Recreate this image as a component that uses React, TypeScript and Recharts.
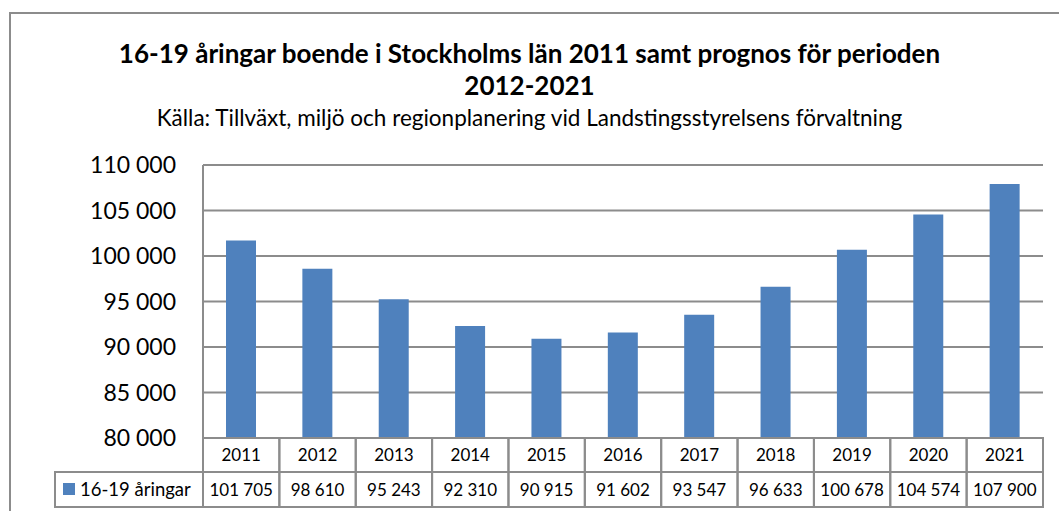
import React from "react";
import { BarChart, Bar, XAxis, YAxis, CartesianGrid } from "recharts";

const years = ["2011", "2012", "2013", "2014", "2015", "2016", "2017", "2018", "2019", "2020", "2021"];
const youths = [101705, 98610, 95243, 92310, 90915, 91602, 93547, 96633, 100678, 104574, 107900];
const yTicks = [80000, 85000, 90000, 95000, 100000, 105000, 110000];
const seriesName = "16-19 åringar";

const data = years.map((year, i) => ({ year, value: youths[i] }));

const W = 1059;
const H = 511;
const PLOT_LEFT = 203;
const PLOT_RIGHT = 1043;
const PLOT_TOP = 165;
const PLOT_BOTTOM = 438;
const ROW1_BOTTOM = 472;
const ROW2_BOTTOM = 507;
const LEGEND_LEFT = 55;
const CELL_W = (PLOT_RIGHT - PLOT_LEFT) / years.length;
const LINE = "#8c8c8c";
const FONT = "Lato, 'Open Sans', sans-serif";

const fmt = (n: number) => String(n).replace(/\B(?=(\d{3})+(?!\d))/g, " ");

const YTick = (props: any) => {
	const { y, payload } = props;
	return (
		<text x={PLOT_LEFT - 27} y={y} dy={8} textAnchor="end" fontSize={23} fill="#000" fontFamily={FONT}>
			{fmt(payload.value)}
		</text>
	);
};

const TableTick = (props: any) => {
	const { x, index, payload } = props;
	const left = x - CELL_W / 2;
	return (
		<g>
			<rect x={left} y={PLOT_BOTTOM} width={CELL_W} height={ROW2_BOTTOM - PLOT_BOTTOM} fill="none" stroke={LINE} strokeWidth={2} />
			<line x1={left} x2={left + CELL_W} y1={ROW1_BOTTOM} y2={ROW1_BOTTOM} stroke={LINE} strokeWidth={2} />
			<text x={x} y={(PLOT_BOTTOM + ROW1_BOTTOM) / 2 + 6} textAnchor="middle" fontSize={17} fill="#000" fontFamily={FONT}>
				{payload.value}
			</text>
			<text x={x} y={(ROW1_BOTTOM + ROW2_BOTTOM) / 2 + 6} textAnchor="middle" fontSize={17} fill="#000" fontFamily={FONT}>
				{fmt(youths[index])}
			</text>
			{index === 0 && (
				<g>
					<rect x={LEGEND_LEFT} y={ROW1_BOTTOM} width={PLOT_LEFT - LEGEND_LEFT} height={ROW2_BOTTOM - ROW1_BOTTOM} fill="none" stroke={LINE} strokeWidth={2} />
					<rect x={63} y={483} width={12} height={12} fill="#4f81bd" />
					<text x={80} y={(ROW1_BOTTOM + ROW2_BOTTOM) / 2 + 6} fontSize={18.5} fill="#000" fontFamily={FONT}>
						{seriesName}
					</text>
				</g>
			)}
		</g>
	);
};

export default function App() {
	return (
		<div style={{ position: "absolute", left: 0, top: 0, width: W, height: H, overflow: "hidden", background: "#fff" }}>
			<div style={{ position: "absolute", left: 9, top: 12, width: W + 50, height: H + 50, border: `2px solid ${LINE}` }} />
			<div style={{ position: "absolute", left: 0, top: 37, width: W, textAlign: "center", fontFamily: FONT, fontWeight: 700, fontSize: 26, lineHeight: "32px", color: "#000" }}>
				16-19 åringar boende i Stockholms län 2011 samt prognos för perioden
				<br />
				2012-2021
			</div>
			<div style={{ position: "absolute", left: 0, top: 105, width: W, textAlign: "center", fontFamily: FONT, fontSize: 22.5, lineHeight: "26px", color: "#000" }}>
				Källa: Tillväxt, miljö och regionplanering vid Landstingsstyrelsens förvaltning
			</div>
			<div style={{ position: "absolute", left: 0, top: 0 }}>
				<BarChart
					width={W}
					height={H}
					data={data}
					margin={{ top: PLOT_TOP, right: W - PLOT_RIGHT, bottom: H - PLOT_BOTTOM - 30, left: 0 }}
					barSize={30}
				>
					<CartesianGrid vertical={false} stroke={LINE} strokeWidth={2} />
					<XAxis dataKey="year" axisLine={false} tickLine={false} tick={<TableTick />} interval={0} height={30} />
					<YAxis
						domain={[80000, 110000]}
						ticks={yTicks}
						width={PLOT_LEFT}
						axisLine={{ stroke: LINE, strokeWidth: 2 }}
						tickLine={false}
						tick={<YTick />}
						interval={0}
					/>
					<Bar dataKey="value" fill="#4f81bd" isAnimationActive={false} />
				</BarChart>
			</div>
		</div>
	);
}
